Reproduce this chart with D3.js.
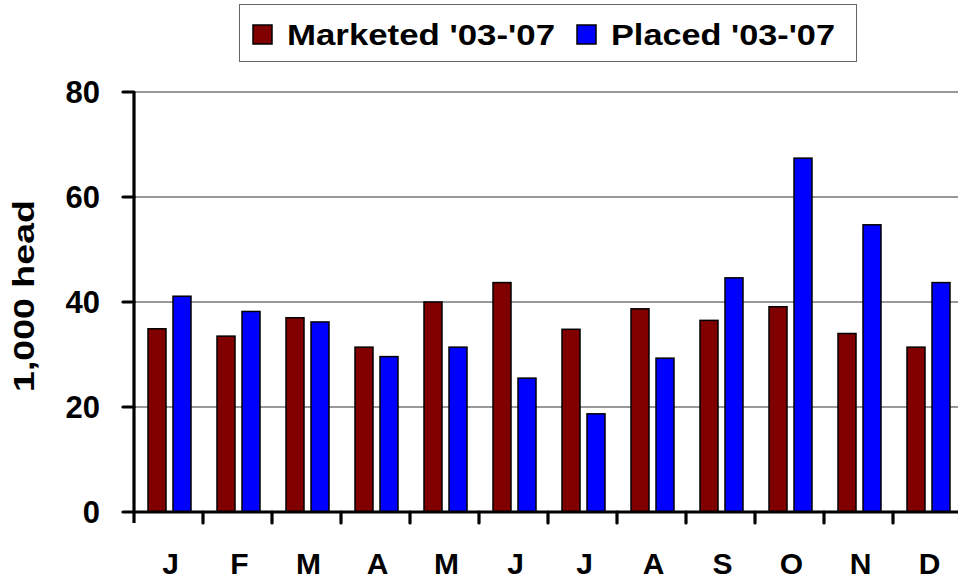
<!DOCTYPE html>
<html>
<head>
<meta charset="utf-8">
<script src="https://cdn.jsdelivr.net/npm/d3@7"></script>
<style>
  body { margin: 0; background: #fff; }
  svg { display: block; font-family: "Liberation Sans", Arial, sans-serif; font-weight: bold; }
</style>
</head>
<body>
<svg width="958" height="581"></svg>
<script>
'use strict'

const months = ['J', 'F', 'M', 'A', 'M', 'J', 'J', 'A', 'S', 'O', 'N', 'D']
const seriesNames = ["Marketed '03-'07", "Placed '03-'07"]
const marketed = [34.9, 33.5, 37.0, 31.4, 40.0, 43.7, 34.8, 38.7, 36.5, 39.1, 34.0, 31.4]
const placed = [41.1, 38.2, 36.2, 29.6, 31.4, 25.5, 18.7, 29.3, 44.6, 67.4, 54.7, 43.7]
const yTicks = [0, 20, 40, 60, 80]
const colors = ['#800000', '#0000ff']

const svg = d3.select('svg')
const plotLeft = 134
const plotTop = 92
const plotBottom = 512
const step = 69

const x = d3.scaleBand().domain(d3.range(months.length)).range([plotLeft, plotLeft + step * months.length])
const xs = d3.scaleBand().domain([0, 1]).range([14, 57]).paddingInner(0.28)
const y = d3.scaleLinear().domain([0, 80]).range([plotBottom, plotTop])

// gridlines
svg.append('g')
  .selectAll('line')
  .data(yTicks.filter((d) => d > 0))
  .enter()
  .append('line')
  .attr('x1', plotLeft)
  .attr('x2', 958)
  .attr('y1', (d) => y(d))
  .attr('y2', (d) => y(d))
  .attr('stroke', '#333')
  .attr('stroke-width', 1)

// bars
const rows = months.map((m, i) => [marketed[i], placed[i]])
const groups = svg.append('g')
  .selectAll('g')
  .data(rows)
  .enter()
  .append('g')
  .attr('transform', (d, i) => `translate(${x(i)},0)`)

groups.selectAll('rect')
  .data((d) => d)
  .enter()
  .append('rect')
  .attr('x', (d, j) => xs(j))
  .attr('width', xs.bandwidth())
  .attr('y', (d) => y(d))
  .attr('height', (d) => plotBottom - y(d))
  .attr('fill', (d, j) => colors[j])
  .attr('stroke', '#000')
  .attr('stroke-width', 1.5)

// y axis
const yAxis = svg.append('g')
yAxis.append('line')
  .attr('x1', plotLeft).attr('x2', plotLeft)
  .attr('y1', plotTop).attr('y2', plotBottom + 11)
  .attr('stroke', '#000').attr('stroke-width', 3.2)

yAxis.selectAll('.tick')
  .data(yTicks)
  .enter()
  .append('line')
  .attr('x1', plotLeft - 11).attr('x2', plotLeft)
  .attr('y1', (d) => y(d)).attr('y2', (d) => y(d))
  .attr('stroke', '#000').attr('stroke-width', 3.2)
  .attr('stroke-linecap', 'round')

yAxis.selectAll('text')
  .data(yTicks)
  .enter()
  .append('text')
  .attr('x', 100)
  .attr('y', (d) => y(d) + 11)
  .attr('text-anchor', 'end')
  .attr('font-size', 31)
  .text((d) => d)

// x axis
const xAxis = svg.append('g')
xAxis.append('line')
  .attr('x1', plotLeft).attr('x2', 958)
  .attr('y1', plotBottom).attr('y2', plotBottom)
  .attr('stroke', '#000').attr('stroke-width', 3.2)

xAxis.selectAll('.tick')
  .data(d3.range(1, months.length))
  .enter()
  .append('line')
  .attr('x1', (d) => x(d)).attr('x2', (d) => x(d))
  .attr('y1', plotBottom).attr('y2', plotBottom + 11)
  .attr('stroke', '#000').attr('stroke-width', 3.2)
  .attr('stroke-linecap', 'round')

xAxis.selectAll('text')
  .data(months)
  .enter()
  .append('text')
  .attr('x', (d, i) => x(i) + x.bandwidth() / 2 + 2)
  .attr('y', 574)
  .attr('text-anchor', 'middle')
  .attr('font-size', 30)
  .text((d) => d)

// axis title
svg.append('text')
  .attr('transform', 'translate(34,296) rotate(-90)')
  .attr('text-anchor', 'middle')
  .attr('font-size', 30)
  .attr('textLength', 192)
  .attr('lengthAdjust', 'spacingAndGlyphs')
  .text('1,000 head')

// legend
const legend = svg.append('g')
legend.append('rect')
  .attr('x', 239.5).attr('y', 4.5)
  .attr('width', 617).attr('height', 57)
  .attr('fill', '#fff')
  .attr('stroke', '#666').attr('stroke-width', 1)

const legendX = [253, 577]
const legendLen = [268, 224]
legendX.forEach((lx, i) => {
  legend.append('rect')
    .attr('x', lx).attr('y', 25)
    .attr('width', 19).attr('height', 19)
    .attr('fill', colors[i])
    .attr('stroke', '#000').attr('stroke-width', 1.5)
  legend.append('text')
    .attr('x', lx + 34)
    .attr('y', 45)
    .attr('font-size', 29)
    .attr('textLength', legendLen[i])
    .attr('lengthAdjust', 'spacingAndGlyphs')
    .text(seriesNames[i])
})
</script>
</body>
</html>
